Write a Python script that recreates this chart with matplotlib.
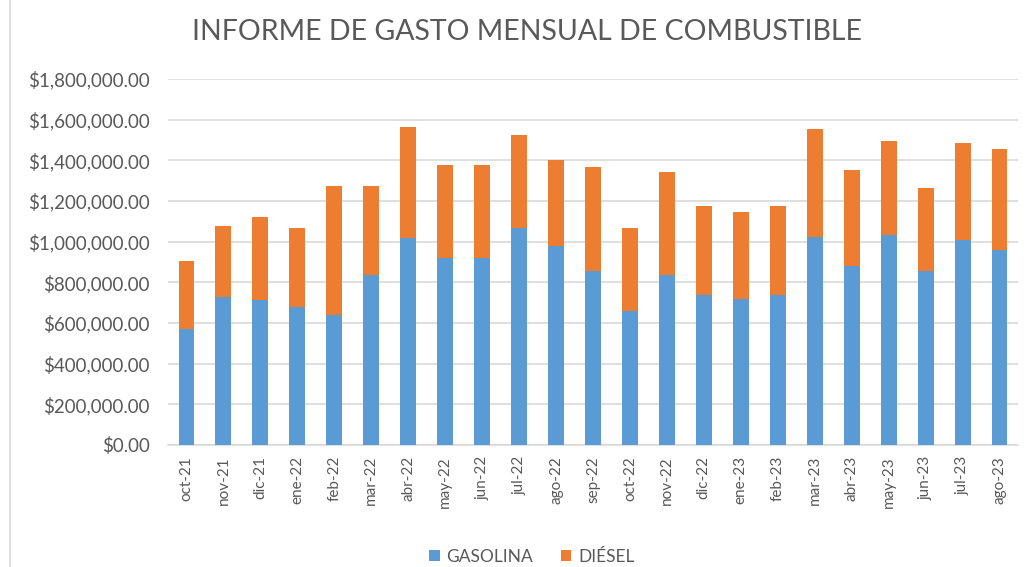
import matplotlib.pyplot as plt
import matplotlib.ticker as mticker
from matplotlib.lines import Line2D
import numpy as np

plt.rcParams['font.family'] = ['Lato', 'DejaVu Sans']

# data
meses = ['oct-21', 'nov-21', 'dic-21', 'ene-22', 'feb-22', 'mar-22', 'abr-22',
         'may-22', 'jun-22', 'jul-22', 'ago-22', 'sep-22', 'oct-22', 'nov-22',
         'dic-22', 'ene-23', 'feb-23', 'mar-23', 'abr-23', 'may-23', 'jun-23',
         'jul-23', 'ago-23']
gasolina = [570000, 730000, 714000, 678000, 640000, 837000, 1018000,
            920000, 920000, 1067000, 980000, 854000, 660000, 837000,
            739000, 719000, 739000, 1023000, 882000, 1034000, 854000,
            1006000, 961000]
total = [906000, 1075000, 1121000, 1067000, 1276000, 1276000, 1565000,
         1379000, 1379000, 1524000, 1404000, 1368000, 1067000, 1345000,
         1174000, 1146000, 1174000, 1555000, 1351000, 1494000, 1264000,
         1486000, 1458000]
diesel = [t - g for t, g in zip(total, gasolina)]

azul = '#5B9BD5'
naranja = '#ED7D31'
gris = '#595959'

fig = plt.figure(figsize=(10.3, 5.67), dpi=100)
ax = fig.add_axes([168 / 1030, 1 - 445 / 567, (1018 - 168) / 1030, (445 - 79) / 567])

x = np.arange(len(meses))
ax.bar(x, gasolina, width=0.43, color=azul, label='GASOLINA', zorder=3)
ax.bar(x, diesel, width=0.43, bottom=gasolina, color=naranja, label='DIÉSEL', zorder=3)

ax.set_ylim(0, 1800000)
ax.set_xlim(-0.5, len(meses) - 0.5)
ax.yaxis.set_major_locator(mticker.MultipleLocator(200000))
ax.yaxis.set_major_formatter(mticker.FuncFormatter(lambda v, p: '${:,.2f}'.format(v)))
ax.grid(axis='y', color='#D9D9D9', linewidth=1.2, zorder=0)
for s in ['top', 'right', 'left']:
    ax.spines[s].set_visible(False)
ax.spines['bottom'].set_color('#D9D9D9')
ax.spines['bottom'].set_linewidth(1.2)

ax.set_xticks(x)
ax.set_xticklabels(meses, rotation=90, fontsize=11, color=gris)
ax.tick_params(axis='y', length=0, pad=13, labelsize=13.5, labelcolor=gris)
ax.tick_params(axis='x', length=0, pad=8)

fig.text(527 / 1030, 1 - 32 / 567, 'INFORME DE GASTO MENSUAL DE COMBUSTIBLE',
         ha='center', va='center', fontsize=20.5, color=gris)

fig.legend(loc='center', bbox_to_anchor=(532 / 1030, 1 - 557 / 567), ncol=2,
           frameon=False, fontsize=12.5, labelcolor=gris, handlelength=0.6,
           handleheight=0.6, columnspacing=1.6, handletextpad=0.4)

# thin border line on the left side of the chart area
fig.add_artist(Line2D([10 / 1030, 10 / 1030], [0, 1], color='#D9D9D9', linewidth=1.2))

fig.savefig('out.png', dpi=100)
